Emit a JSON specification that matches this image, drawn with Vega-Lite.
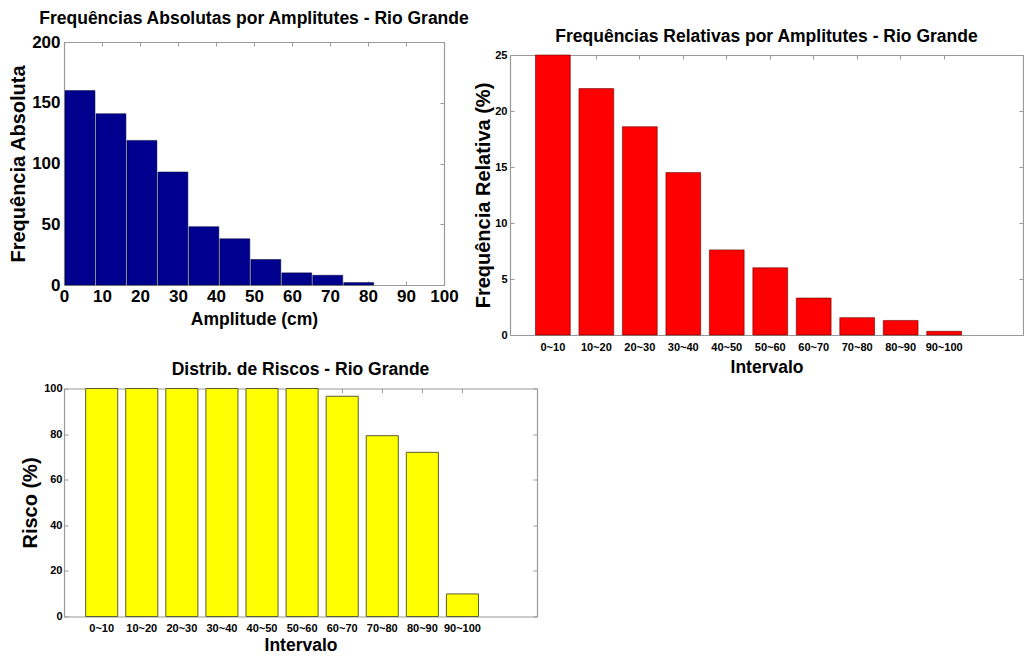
{
  "$schema": "https://vega.github.io/schema/vega-lite/v6.json",
  "padding": {"left": 8, "top": 9, "right": 0, "bottom": 0},
  "background": "white",
  "config": {
    "font": "Liberation Sans",
    "view": {"stroke": null},
    "axis": {
      "domainColor": "#999999", "domainWidth": 1.2,
      "tickColor": "#999999", "tickSize": -4, "tickWidth": 1,
      "labelColor": "#000000", "labelFontWeight": "bold", "labelFont": "Liberation Sans",
      "labelFlush": false, "labelOverlap": false,
      "titleColor": "#000000", "titleFontWeight": "bold", "titleFont": "Liberation Sans",
      "grid": false
    },
    "title": {"fontWeight": "bold", "fontSize": 17.5, "color": "#000000", "anchor": "middle", "frame": "group", "font": "Liberation Sans"}
  },
  "vconcat": [
    {
      "hconcat": [
        {
          "width": 380, "height": 243,
          "title": {"text": "Frequências Absolutas por Amplitutes - Rio Grande", "offset": 6},
          "data": {"values": [
            {"lo": 0, "hi": 8.15, "count": 160},
            {"lo": 8.15, "hi": 16.3, "count": 141},
            {"lo": 16.3, "hi": 24.45, "count": 119},
            {"lo": 24.45, "hi": 32.6, "count": 93},
            {"lo": 32.6, "hi": 40.75, "count": 48},
            {"lo": 40.75, "hi": 48.9, "count": 38},
            {"lo": 48.9, "hi": 57.05, "count": 21},
            {"lo": 57.05, "hi": 65.2, "count": 10},
            {"lo": 65.2, "hi": 73.35, "count": 8},
            {"lo": 73.35, "hi": 81.5, "count": 2}
          ]},
          "layer": [
            {
              "mark": {"type": "bar", "color": "#00008F", "stroke": "#000033", "strokeWidth": 0.5},
              "encoding": {
                "x": {"field": "lo", "type": "quantitative", "bin": "binned",
                  "scale": {"domain": [0, 100], "nice": false},
                  "axis": {"orient": "bottom", "values": [0,10,20,30,40,50,60,70,80,90,100], "format": "d",
                    "title": "Amplitude (cm)", "labelFontSize": 17, "labelPadding": 7, "titleFontSize": 17.5, "titlePadding": 6}},
                "x2": {"field": "hi"},
                "y": {"field": "count", "type": "quantitative", "stack": null,
                  "scale": {"domain": [0, 200], "nice": false},
                  "axis": {"orient": "left", "values": [0,50,100,150,200],
                    "title": "Frequência Absoluta", "labelFontSize": 17, "labelPadding": 8, "titleFontSize": 20, "titlePadding": 3}}
              }
            },
            {
              "mark": {"type": "bar", "opacity": 0},
              "encoding": {
                "x": {"field": "lo", "type": "quantitative", "bin": "binned",
                  "scale": {"domain": [0, 100], "nice": false},
                  "axis": {"orient": "top", "values": [0,10,20,30,40,50,60,70,80,90,100], "labels": false, "title": null}},
                "x2": {"field": "hi"},
                "y": {"field": "count", "type": "quantitative", "stack": null,
                  "scale": {"domain": [0, 200], "nice": false},
                  "axis": {"orient": "right", "values": [0,50,100,150,200], "labels": false, "title": null}}
              }
            }
          ],
          "resolve": {"axis": {"x": "independent", "y": "independent"}}
        },
        {
          "width": 513, "height": 293,
          "title": {"text": "Frequências Relativas por Amplitutes - Rio Grande", "offset": -3},
          "data": {"values": [
            {"intervalo": "0~10", "freq": 25.0},
            {"intervalo": "10~20", "freq": 22.0},
            {"intervalo": "20~30", "freq": 18.6},
            {"intervalo": "30~40", "freq": 14.5},
            {"intervalo": "40~50", "freq": 7.6},
            {"intervalo": "50~60", "freq": 6.0},
            {"intervalo": "60~70", "freq": 3.3},
            {"intervalo": "70~80", "freq": 1.55},
            {"intervalo": "80~90", "freq": 1.3},
            {"intervalo": "90~100", "freq": 0.33}
          ]},
          "layer": [
            {
              "mark": {"type": "bar", "color": "#FF0000", "stroke": "#660000", "strokeWidth": 0.6},
              "encoding": {
                "x": {"field": "intervalo", "type": "nominal", "sort": null,
                  "scale": {"paddingInner": 0.2, "paddingOuter": 1.015, "align": 0.293},
                  "axis": {"orient": "bottom", "labelAngle": 0, "title": "Intervalo", "labelFontSize": 11, "labelPadding": 10, "titleFontSize": 17.5, "titlePadding": 6}},
                "y": {"field": "freq", "type": "quantitative", "stack": null,
                  "scale": {"domain": [0, 25], "nice": false, "range": [293, 13]},
                  "axis": {"orient": "left", "values": [0,5,10,15,20,25], "title": "Frequência Relativa (%)", "labelFontSize": 11, "labelPadding": 7, "titleFontSize": 20, "titlePadding": 1}}
              }
            },
            {
              "mark": {"type": "bar", "opacity": 0},
              "encoding": {
                "x": {"field": "intervalo", "type": "nominal", "sort": null,
                  "scale": {"paddingInner": 0.2, "paddingOuter": 1.015, "align": 0.293},
                  "axis": {"orient": "top", "offset": -13, "labels": false, "title": null}},
                "y": {"field": "freq", "type": "quantitative", "stack": null,
                  "scale": {"domain": [0, 25], "nice": false, "range": [293, 13]},
                  "axis": {"orient": "right", "values": [0,5,10,15,20,25], "labels": false, "title": null}}
              }
            }
          ],
          "resolve": {"axis": {"x": "independent", "y": "independent"}}
        }
      ],
      "spacing": 3
    },
    {
      "width": 473, "height": 228,
      "title": {"text": "Distrib. de Riscos - Rio Grande", "offset": 4},
      "data": {"values": [
        {"intervalo": "0~10", "risco": 100},
        {"intervalo": "10~20", "risco": 100},
        {"intervalo": "20~30", "risco": 100},
        {"intervalo": "30~40", "risco": 100},
        {"intervalo": "40~50", "risco": 100},
        {"intervalo": "50~60", "risco": 100},
        {"intervalo": "60~70", "risco": 96.6},
        {"intervalo": "70~80", "risco": 79.3},
        {"intervalo": "80~90", "risco": 72.0},
        {"intervalo": "90~100", "risco": 9.9}
      ]},
      "layer": [
        {
          "mark": {"type": "bar", "color": "#FFFF00", "stroke": "#5c5c30", "strokeWidth": 1},
          "encoding": {
            "x": {"field": "intervalo", "type": "nominal", "sort": null,
              "scale": {"paddingInner": 0.2, "paddingOuter": 1.11, "align": 0.27},
              "axis": {"orient": "bottom", "labelAngle": 0, "title": "Intervalo", "labelFontSize": 11, "labelPadding": 10, "titleFontSize": 17.5, "titlePadding": 3}},
            "y": {"field": "risco", "type": "quantitative", "stack": null,
              "scale": {"domain": [0, 100], "nice": false},
              "axis": {"orient": "left", "values": [0,20,40,60,80,100], "title": "Risco (%)", "labelFontSize": 11, "labelPadding": 6, "titleFontSize": 20, "titlePadding": 3}}
          }
        },
        {
          "mark": {"type": "bar", "opacity": 0},
          "encoding": {
            "x": {"field": "intervalo", "type": "nominal", "sort": null,
              "scale": {"paddingInner": 0.2, "paddingOuter": 1.11, "align": 0.27},
              "axis": {"orient": "top", "labels": false, "title": null}},
            "y": {"field": "risco", "type": "quantitative", "stack": null,
              "scale": {"domain": [0, 100], "nice": false},
              "axis": {"orient": "right", "values": [0,20,40,60,80,100], "labels": false, "title": null}}
          }
        }
      ],
      "resolve": {"axis": {"x": "independent", "y": "independent"}}
    }
  ],
  "spacing": -15.5
}
